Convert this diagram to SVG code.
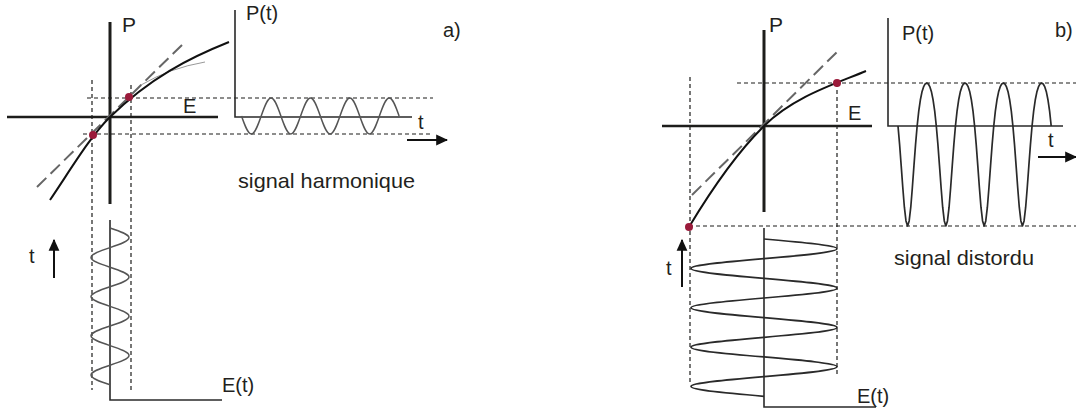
<svg xmlns="http://www.w3.org/2000/svg" xmlns:xlink="http://www.w3.org/1999/xlink" width="1076" height="409" viewBox="0 0 1076 409">
<style>
.ax{stroke:#1d1d1b;stroke-width:3;fill:none}
.ax2{stroke:#1d1d1b;stroke-width:2.5;fill:none}
.thin{stroke:#2a2a2a;stroke-width:1.6;fill:none}
.dl{stroke:#1d1d1b;stroke-width:1.2;stroke-dasharray:4 3;fill:none}
.tan{stroke:#666;stroke-width:2;stroke-dasharray:13 6;fill:none}
.cv{stroke:#111;stroke-width:2;fill:none}
.wv{stroke:#555;stroke-width:1.5;fill:none}
.wv2{stroke:#2a2a2a;stroke-width:1.7;fill:none;stroke-linejoin:round}
.pt{fill:#9b1b3b}
.arr{stroke:#111;stroke-width:2;fill:none;marker-end:url(#ah)}
text{font-family:"Liberation Sans",Arial,sans-serif;fill:#231f20;font-size:20px}
.lg{font-size:21px}
</style>
<defs>
<marker id="ah" viewBox="0 0 10 10" refX="9" refY="5" markerWidth="6" markerHeight="6" orient="auto" markerUnits="strokeWidth">
<path d="M0,0.5 L10,5 L0,9.5 Z" fill="#111"/>
</marker>
<path id="per" d="M0,0 L1.6,18.41 L3.19,39.59 L4.79,61.55 L6.38,81.21 L7.98,94.97 L9.58,99.95 L11.17,94.97 L12.77,81.21 L14.36,61.55 L15.96,39.59 L17.56,18.41 L19.15,0 L20.75,-14.79 L22.34,-25.96 L23.94,-33.88 L25.54,-39.09 L27.13,-42.03 L28.73,-42.98 L30.32,-42.03 L31.92,-39.09 L33.52,-33.88 L35.11,-25.96 L36.71,-14.79 L38.3,0"/>
</defs>

<g id="connectors">
<line class="dl" x1="92" y1="80" x2="92" y2="390"/>
<line class="dl" x1="131" y1="85" x2="131" y2="391"/>
<line class="dl" x1="87" y1="98" x2="433" y2="98"/>
<line class="dl" x1="83" y1="134" x2="430" y2="134"/>
<line class="dl" x1="690" y1="77" x2="690" y2="385"/>
<line class="dl" x1="837" y1="83" x2="837" y2="375"/>
<line class="dl" x1="737" y1="83" x2="1076" y2="83"/>
<line class="dl" x1="689" y1="226" x2="1076" y2="226"/>
</g>

<g id="panel-a">
<g id="curve-a">
<line class="ax" x1="110" y1="22" x2="110" y2="204"/>
<line class="ax2" x1="7" y1="117" x2="218" y2="117"/>
<line class="tan" x1="37" y1="187" x2="185" y2="42"/>
<path d="M141,85 Q170,68 205,62" stroke="#999" stroke-width="1" fill="none"/>
<path class="cv" d="M50,200 C70,170.6 90,136.6 110,117 C150,77.8 189,58 229,42"/>
<circle class="pt" cx="93" cy="135" r="4"/>
<circle class="pt" cx="129" cy="97" r="4"/>
<text x="122" y="32" class="lg">P</text>
<text x="183" y="113">E</text>
</g>
<g id="pt-a">
<polyline class="thin" points="235,10 235,117 412,117"/>
<path class="wv" d="M241.5,116 c3.21,9.22 6.29,18 9.85,18 s6.64,-8.78 9.85,-18 s6.29,-18 9.85,-18 s6.64,8.78 9.850,18 s6.29,18 9.85,18 s6.64,-8.78 9.85,-18 s6.29,-18 9.85,-18 s6.64,8.78 9.85,18 s6.29,18 9.85,18 s6.64,-8.78 9.85,-18 s6.29,-18 9.85,-18 s6.64,8.78 9.85,18 s6.29,18 9.85,18 s6.64,-8.78 9.85,-18 s6.29,-18 9.85,-18 s6.64,8.78 9.85,18"/>
<text x="246" y="20">P(t)</text>
<text x="418" y="129">t</text>
<line class="arr" x1="407" y1="140" x2="447" y2="140"/>
<text x="443" y="37">a)</text>
<text x="238" y="188" class="lg" textLength="177" lengthAdjust="spacingAndGlyphs">signal harmonique</text>
</g>
<g id="et-a">
<polyline class="thin" points="110,220 110,400 222,400"/>
<path class="wv" d="M110,228 c9.73,3.2 19,6.25 19,9.8 s-9.27,6.6 -19,9.8 s-19,6.25 -19,9.8 s9.27,6.6 19,9.8 s19,6.25 19,9.8 s-9.27,6.6 -19,9.8 s-19,6.25 -19,9.8 s9.27,6.6 19,9.8 s19,6.25 19,9.8 s-9.27,6.6 -19,9.8 s-19,6.25 -19,9.8 s9.27,6.6 19,9.8 s19,6.25 19,9.8 s-9.27,6.6 -19,9.8 s-19,6.25 -19,9.8 s9.27,6.6 19,9.8"/>
<text x="222" y="392">E(t)</text>
<text x="29" y="263">t</text>
<line class="arr" x1="54" y1="278" x2="54" y2="240"/>
</g>
</g>

<g id="panel-b">
<g id="curve-b">
<line class="ax" x1="764" y1="30" x2="764" y2="212"/>
<line class="ax2" x1="662" y1="126" x2="872" y2="126"/>
<line class="tan" x1="692" y1="195" x2="839" y2="50"/>
<path class="cv" d="M689,227 C710,192 734,155.6 764,126 C794,96.4 836,83.7 866,71"/>
<circle class="pt" cx="689" cy="227" r="4"/>
<circle class="pt" cx="837" cy="83" r="4"/>
<text x="769" y="32" class="lg">P</text>
<text x="848" y="120">E</text>
</g>
<g id="pt-b">
<polyline class="thin" points="888,18 888,126 1063,126"/>
<use xlink:href="#per" href="#per" x="898" y="126" class="wv2"/>
<use xlink:href="#per" href="#per" x="936.3" y="126" class="wv2"/>
<use xlink:href="#per" href="#per" x="974.6" y="126" class="wv2"/>
<use xlink:href="#per" href="#per" x="1012.9" y="126" class="wv2"/>
<text x="902" y="40">P(t)</text>
<text x="1055" y="37">b)</text>
<text x="1048" y="147">t</text>
<line class="arr" x1="1038" y1="157" x2="1076" y2="157"/>
<text x="894" y="265" class="lg" textLength="140" lengthAdjust="spacingAndGlyphs">signal distordu</text>
</g>
<g id="et-b">
<polyline class="thin" points="764,228 764,407 876,407"/>
<path class="wv2" d="M764,239 c37.4,3.21 73,6.27 73,9.83 s-35.6,6.62 -73,9.83 s-73,6.27 -73,9.830 s35.6,6.62 73,9.83 s73,6.27 73,9.83 s-35.6,6.62 -73,9.83 s-73,6.27 -73,9.83 s35.6,6.62 73,9.83 s73,6.27 73,9.83 s-35.6,6.62 -73,9.83 s-73,6.27 -73,9.83 s35.6,6.62 73,9.83 s73,6.27 73,9.83 s-35.6,6.62 -73,9.83 s-73,6.27 -73,9.83 s35.6,6.62 73,9.83"/>
<text x="857" y="403">E(t)</text>
<text x="666" y="275">t</text>
<line class="arr" x1="682" y1="287" x2="682" y2="240"/>
</g>
</g>
</svg>
